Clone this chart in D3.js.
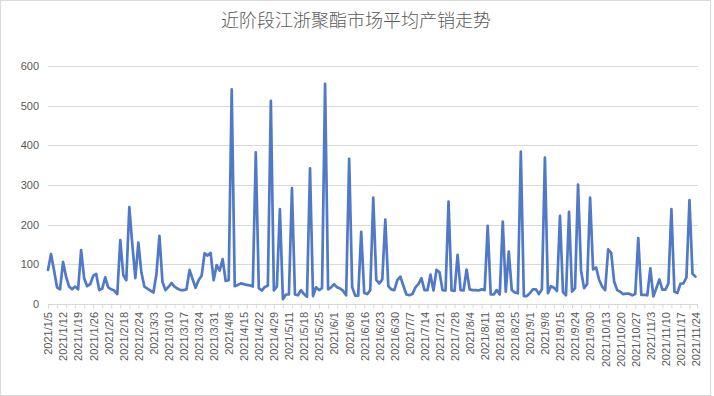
<!DOCTYPE html>
<html>
<head>
<meta charset="utf-8">
<script src="https://cdn.jsdelivr.net/npm/d3@7"></script>
<style>
  html, body { margin: 0; padding: 0; background: #fff; }
  svg { display: block; }
</style>
</head>
<body>
<svg id="chart" width="714" height="396"></svg>
<script>
const title = "近阶段江浙聚酯市场平均产销走势";

// tick labels shown on the category axis (every 5th trading day)
const tickLabels = [
  "2021/1/5","2021/1/12","2021/1/19","2021/1/26","2021/2/2","2021/2/18","2021/2/24",
  "2021/3/3","2021/3/10","2021/3/17","2021/3/24","2021/3/31","2021/4/8","2021/4/15",
  "2021/4/22","2021/4/29","2021/5/11","2021/5/18","2021/5/25","2021/6/1","2021/6/8",
  "2021/6/16","2021/6/23","2021/6/30","2021/7/7","2021/7/14","2021/7/21","2021/7/28",
  "2021/8/4","2021/8/11","2021/8/18","2021/8/25","2021/9/1","2021/9/8","2021/9/15",
  "2021/9/24","2021/9/30","2021/10/13","2021/10/20","2021/10/27","2021/11/3","2021/11/10",
  "2021/11/17","2021/11/24"
];

const yTicks = [0, 100, 200, 300, 400, 500, 600];

// average production-sales ratio (%), one value per trading day
const values = [
  86,126,85,42,37,106,69,44,37,44,
  37,136,65,45,50,71,76,35,39,67,
  42,37,34,25,161,73,60,244,150,65,
  155,80,44,39,34,29,75,172,56,35,
  43,53,44,39,35,35,37,86,63,41,
  60,71,128,122,129,60,98,84,113,58,
  60,541,45,48,52,50,48,47,44,382,
  40,34,43,46,512,34,44,239,12,24,
  24,292,24,22,35,25,18,342,20,42,
  35,40,555,37,42,50,42,39,33,22,
  366,43,21,21,182,28,25,35,268,61,
  52,62,213,45,37,35,60,69,46,24,
  22,25,42,50,65,35,35,74,34,86,
  80,35,34,258,34,33,124,35,34,87,
  37,35,35,34,37,35,197,24,24,35,
  24,208,31,132,35,29,27,384,20,20,
  27,37,37,25,37,369,27,45,41,33,
  222,30,22,232,31,40,301,84,40,50,
  268,87,92,61,44,35,138,129,56,35,
  31,25,26,26,22,25,166,23,23,22,
  90,19,40,62,36,36,52,239,31,28,
  51,52,67,262,76,69
];

const svg = d3.select("#chart");

// outer chart border
svg.append("rect")
  .attr("x", 0.5).attr("y", 0.5)
  .attr("width", 710).attr("height", 395)
  .attr("fill", "#fff")
  .attr("stroke", "#d9d9d9")
  .attr("stroke-width", 1);

const plotLeft = 48, plotRight = 698, plotTop = 66, plotBottom = 304;

const x = d3.scaleLinear().domain([0, values.length - 1]).range([plotLeft, 695.5]);
const y = d3.scaleLinear().domain([0, 600]).range([plotBottom, plotTop]);

// title
svg.append("text")
  .attr("x", 356).attr("y", 27)
  .attr("text-anchor", "middle")
  .attr("font-family", "'Noto Sans CJK SC', sans-serif")
  .attr("font-size", 18)
  .attr("font-weight", 300)
  .attr("fill", "#595959")
  .text(title);

// gridlines
svg.append("g").selectAll("line")
  .data(yTicks.filter(d => d > 0))
  .join("line")
  .attr("x1", plotLeft).attr("x2", plotRight)
  .attr("y1", d => Math.round(y(d)) + 0.5)
  .attr("y2", d => Math.round(y(d)) + 0.5)
  .attr("stroke", "#d9d9d9")
  .attr("stroke-width", 1);

// y axis labels
const yAxis = d3.axisLeft(y).tickValues(yTicks).tickSize(0).tickPadding(9);
const gy = svg.append("g").attr("transform", `translate(${plotLeft},0)`).call(yAxis);
gy.select(".domain").remove();
gy.selectAll("text")
  .attr("font-family", "'Liberation Sans', Arial, sans-serif")
  .attr("font-size", 11)
  .attr("fill", "#595959");

// x axis line
svg.append("line")
  .attr("x1", plotLeft).attr("x2", plotRight)
  .attr("y1", Math.round(y(0)) + 0.5).attr("y2", Math.round(y(0)) + 0.5)
  .attr("stroke", "#d9d9d9").attr("stroke-width", 1);

// x tick marks every 3 categories
const tickIdx = d3.range(0, values.length, 3);
const xAxis = d3.axisBottom(x).tickValues(tickIdx).tickSize(4).tickFormat("");
const gxTicks = svg.append("g").attr("transform", `translate(0,${Math.round(y(0)) + 0.5})`).call(xAxis);
gxTicks.select(".domain").remove();
gxTicks.selectAll("line").attr("stroke", "#d9d9d9");
svg.append("line")
  .attr("x1", plotRight - 0.5).attr("x2", plotRight - 0.5)
  .attr("y1", Math.round(y(0)) + 0.5).attr("y2", Math.round(y(0)) + 4.5)
  .attr("stroke", "#d9d9d9");

// x tick labels every 5 categories, rotated
const labelIdx = tickLabels.map((d, i) => i * 5);
const xLabelAxis = d3.axisBottom(x).tickValues(labelIdx).tickSize(0)
  .tickFormat((d, i) => tickLabels[i]);
const gx = svg.append("g").attr("transform", `translate(0,${y(0)})`).call(xLabelAxis);
gx.select(".domain").remove();
gx.selectAll("text")
  .attr("font-family", "'Liberation Sans', Arial, sans-serif")
  .attr("font-size", 11)
  .attr("fill", "#595959")
  .attr("text-anchor", "end")
  .attr("transform", "rotate(-90)")
  .attr("x", -8)
  .attr("y", 0)
  .attr("dy", "0.35em");

// line
const line = d3.line()
  .x((d, i) => x(i))
  .y(d => y(d));

svg.append("path")
  .datum(values)
  .attr("d", line)
  .attr("fill", "none")
  .attr("stroke", "#5079C7")
  .attr("stroke-width", 2.7)
  .attr("stroke-linejoin", "round")
  .attr("stroke-linecap", "round");
</script>
</body>
</html>
